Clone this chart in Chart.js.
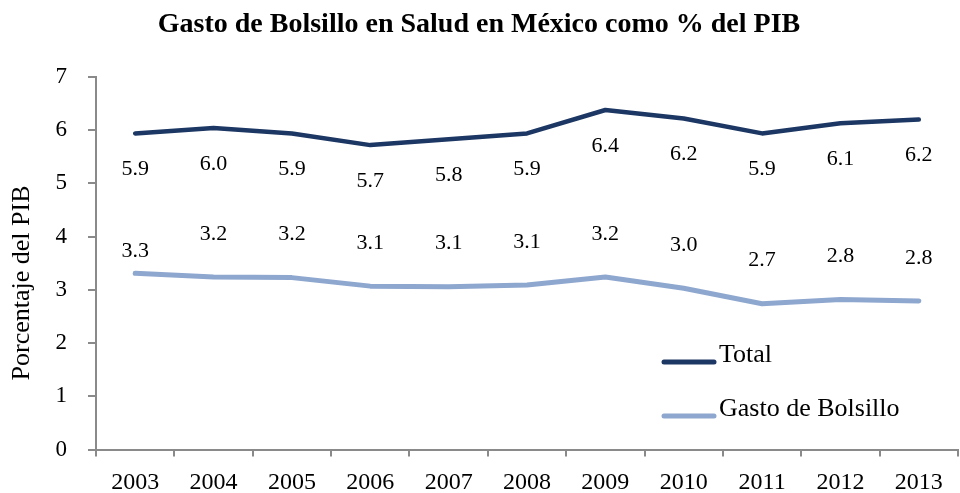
<!DOCTYPE html>
<html>
<head>
<meta charset="utf-8">
<script src="https://cdn.jsdelivr.net/npm/chart.js@4/dist/chart.umd.min.js"></script>
<style>
  html, body { margin: 0; padding: 0; background: #fff; }
  #wrap { width: 960px; height: 493px; position: relative; }
</style>
</head>
<body>
<div id="wrap"><canvas id="c" width="960" height="493"></canvas></div>
<script>
const years = ['2003','2004','2005','2006','2007','2008','2009','2010','2011','2012','2013'];
const total = [5.94, 6.04, 5.94, 5.72, 5.83, 5.94, 6.38, 6.22, 5.94, 6.13, 6.20];
const bolsillo = [3.31, 3.24, 3.23, 3.07, 3.06, 3.09, 3.24, 3.03, 2.74, 2.82, 2.79];
const yTicks = [0, 1, 2, 3, 4, 5, 6, 7];
const seriesNames = ['Total', 'Gasto de Bolsillo'];
const titleText = 'Gasto de Bolsillo en Salud en México como % del PIB';
const yTitle = 'Porcentaje del PIB';

const FONT = "'Liberation Serif', 'DejaVu Serif', serif";
const COL_TOTAL = '#1C3763';
const COL_BOL = '#8EA7CF';
const AXIS = '#8A8A8A';

const overlay = {
  id: 'overlay',
  afterDatasetsDraw(chart) {
    const ctx = chart.ctx;
    ctx.save();
    ctx.fillStyle = '#000';
    ctx.font = '22px ' + FONT;
    ctx.textAlign = 'center';
    ctx.textBaseline = 'middle';
    chart.data.datasets.forEach((ds, di) => {
      const meta = chart.getDatasetMeta(di);
      meta.data.forEach((pt, i) => {
        const v = ds.data[i].toFixed(1);
        let dy;
        if (di === 0) dy = 36;
        else dy = (i === 0) ? -22 : -43;
        ctx.fillText(v, pt.x, pt.y + dy);
      });
    });
    // y axis title
    ctx.save();
    ctx.translate(22, 283);
    ctx.rotate(-Math.PI / 2);
    ctx.font = '26px ' + FONT;
    ctx.fillText(yTitle, 0, 0);
    ctx.restore();
    // legend
    const rows = [362, 416];
    chart.data.datasets.forEach((ds, di) => {
      const y = rows[di];
      ctx.strokeStyle = ds.borderColor;
      ctx.lineWidth = 5;
      ctx.lineCap = 'round';
      ctx.beginPath();
      ctx.moveTo(664, y);
      ctx.lineTo(714, y);
      ctx.stroke();
      ctx.fillStyle = '#000';
      ctx.font = '26px ' + FONT;
      ctx.textAlign = 'left';
      ctx.textBaseline = 'alphabetic';
      ctx.fillText(ds.label, 719, y);
    });
    ctx.restore();
  }
};

new Chart(document.getElementById('c'), {
  type: 'line',
  data: {
    labels: years,
    datasets: [
      { label: seriesNames[0], data: total, borderColor: COL_TOTAL, backgroundColor: COL_TOTAL,
        borderWidth: 4.5, pointRadius: 0, tension: 0, borderCapStyle: 'round', borderJoinStyle: 'round' },
      { label: seriesNames[1], data: bolsillo, borderColor: COL_BOL, backgroundColor: COL_BOL,
        borderWidth: 5, pointRadius: 0, tension: 0, borderCapStyle: 'round', borderJoinStyle: 'round' }
    ]
  },
  options: {
    responsive: false,
    animation: false,
    events: [],
    layout: { padding: { left: 0, right: 2, top: 0, bottom: 0 } },
    plugins: {
      legend: { display: false },
      tooltip: { enabled: false },
      title: {
        display: true,
        text: titleText,
        color: '#000',
        font: { family: FONT, size: 28, weight: 'bold', lineHeight: 1.2 },
        padding: { top: 8, bottom: 35.4 }
      }
    },
    scales: {
      x: {
        type: 'category',
        offset: true,
        grid: { display: true, offset: true, drawOnChartArea: false, drawTicks: true, tickLength: 7, color: AXIS, lineWidth: 2 },
        border: { display: true, color: AXIS, width: 2 },
        ticks: { color: '#000', font: { family: FONT, size: 24 }, padding: 12, maxRotation: 0, autoSkip: false },
        afterFit(s) { s.height = 43.5; }
      },
      y: {
        min: 0, max: 7,
        afterBuildTicks(s) { s.ticks = yTicks.map(v => ({ value: v })); },
        grid: { display: true, drawOnChartArea: false, drawTicks: true, tickLength: 8, color: AXIS, lineWidth: 2 },
        border: { display: true, color: AXIS, width: 2 },
        ticks: { color: '#000', font: { family: FONT, size: 23 }, padding: 21 },
        afterFit(s) { s.width = 96; }
      }
    }
  },
  plugins: [overlay]
});
</script>
</body>
</html>
